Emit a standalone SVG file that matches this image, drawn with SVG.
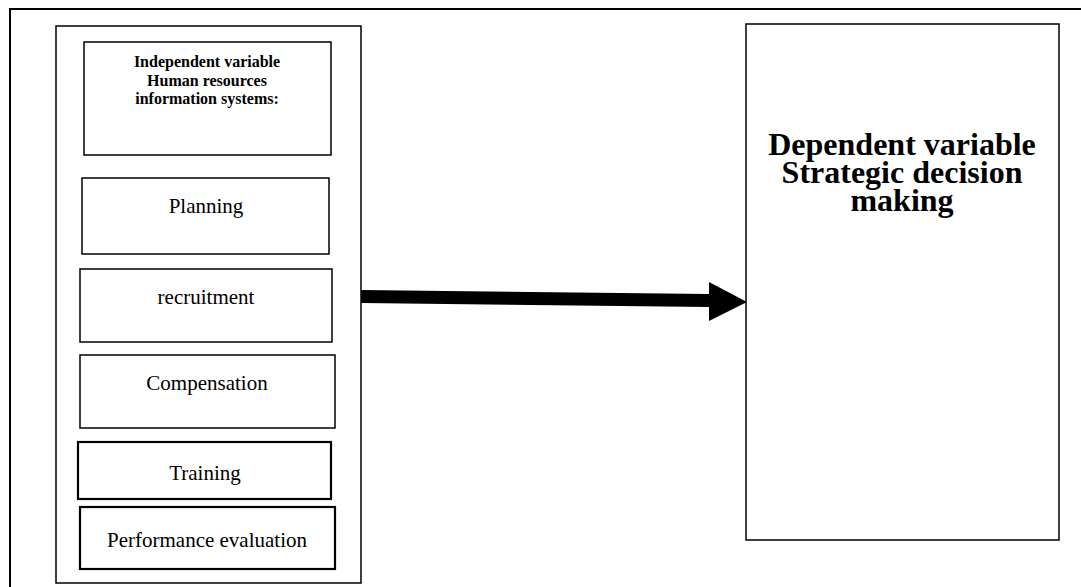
<svg xmlns="http://www.w3.org/2000/svg" width="1081" height="587" viewBox="0 0 1081 587">
<style>
.box{fill:#fff;stroke:#000;stroke-width:1.5}
.thick{fill:#fff;stroke:#000;stroke-width:2.2}
.t{font-family:"Liberation Serif","Times New Roman",serif;font-size:21px;text-anchor:middle;fill:#000}
.h{font-family:"Liberation Serif","Times New Roman",serif;font-size:16px;font-weight:bold;text-anchor:middle;fill:#000}
.d{font-family:"Liberation Serif","Times New Roman",serif;font-size:32px;font-weight:bold;text-anchor:middle;fill:#000}
</style>
<rect x="0" y="0" width="1081" height="587" fill="#fff"/>
<rect id="frame" x="10" y="9" width="1090" height="600" fill="none" stroke="#000" stroke-width="2"/>
<g id="independent-container">
<rect class="box" x="56" y="26" width="305" height="557"/>
</g>
<g id="header">
<rect class="box" x="84" y="42" width="247" height="113"/>
<text class="h" x="207" y="67">Independent variable</text>
<text class="h" x="207" y="86">Human resources</text>
<text class="h" x="207" y="104">information systems:</text>
</g>
<g id="planning">
<rect class="box" x="82" y="178" width="247" height="76"/>
<text class="t" x="206" y="213">Planning</text>
</g>
<g id="recruitment">
<rect class="box" x="80" y="269" width="252" height="73"/>
<text class="t" x="206" y="304">recruitment</text>
</g>
<g id="compensation">
<rect class="box" x="80" y="355" width="255" height="73"/>
<text class="t" x="207" y="390">Compensation</text>
</g>
<g id="training">
<rect class="thick" x="78" y="442" width="253" height="57"/>
<text class="t" x="205" y="480">Training</text>
</g>
<g id="performance">
<rect class="thick" x="80" y="507" width="255" height="62"/>
<text class="t" x="207" y="547">Performance evaluation</text>
</g>
<g id="dependent">
<rect class="box" x="746" y="24" width="313" height="516"/>
<text class="d" x="902" y="155">Dependent variable</text>
<text class="d" x="902" y="183">Strategic decision</text>
<text class="d" x="902" y="211">making</text>
</g>
<g id="connectors">
<polygon points="361,290 709,294 709,282 747,302 709,321 709,307 361,303" fill="#000"/>
</g>
</svg>
